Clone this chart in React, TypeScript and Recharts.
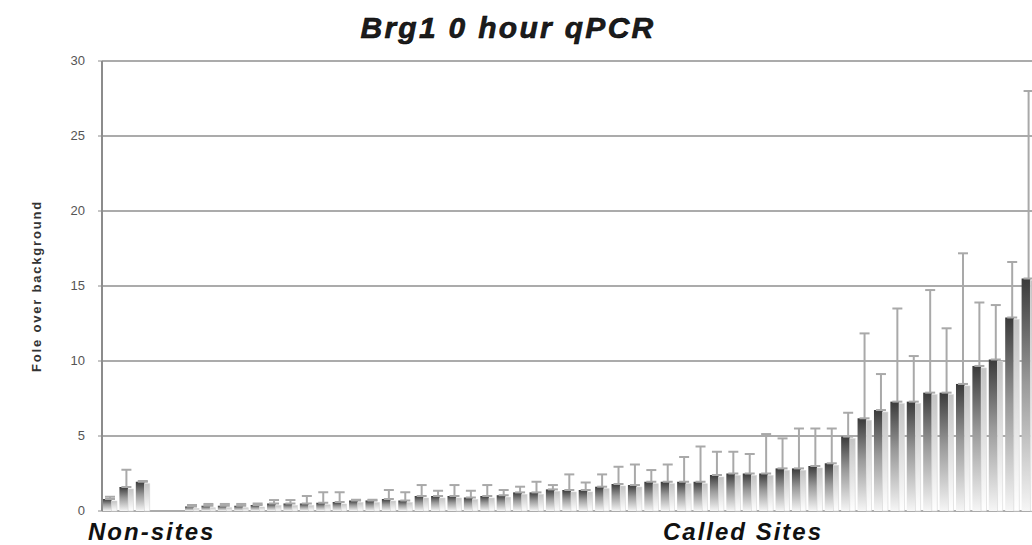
import React from 'react';
import { BarChart, Bar, XAxis, YAxis, CartesianGrid, ErrorBar } from 'recharts';

// non-site controls
const nonSiteValues = [0.8, 1.6, 1.95];
const nonSiteErrors = [0.15, 1.15, 0.05];

// called sites, sorted by enrichment (the last ones are cut off at the right edge)
const siteValues = [
  0.3, 0.35, 0.35, 0.35, 0.4, 0.5, 0.5, 0.5, 0.55, 0.6,
  0.7, 0.7, 0.8, 0.7, 1.0, 1.0, 1.0, 0.9, 1.0, 1.05,
  1.24, 1.24, 1.44, 1.4, 1.4, 1.62, 1.8, 1.73, 1.95, 1.95,
  1.95, 1.95, 2.4, 2.5, 2.5, 2.5, 2.84, 2.84, 3.0, 3.18,
  4.96, 6.18, 6.73, 7.29, 7.29, 7.89, 7.89, 8.47, 9.67, 10.1,
  12.9, 15.5,
];
const siteErrors = [
  0.1, 0.12, 0.12, 0.12, 0.1, 0.23, 0.23, 0.5, 0.7, 0.65,
  0.05, 0.05, 0.6, 0.55, 0.73, 0.35, 0.73, 0.45, 0.73, 0.35,
  0.38, 0.71, 0.29, 1.04, 0.5, 0.82, 1.15, 1.37, 0.78, 1.15,
  1.65, 2.35, 1.55, 1.45, 1.3, 2.63, 2.0, 2.66, 2.5, 2.32,
  1.59, 5.66, 2.4, 6.21, 3.04, 6.84, 4.29, 8.71, 4.23, 3.63,
  3.7, 12.5,
];
const gapSlots = 2;
const yTicks = [0, 5, 10, 15, 20, 25, 30];

type Row = { name: string; value: number | null; err?: [number, number] };

const data: Row[] = [
  ...nonSiteValues.map((v, i) => ({ name: `ns${i + 1}`, value: v, err: [0, nonSiteErrors[i]] as [number, number] })),
  ...Array.from({ length: gapSlots }, (_, i) => ({ name: `gap${i + 1}`, value: null })),
  ...siteValues.map((v, i) => ({ name: `site${i + 1}`, value: v, err: [0, siteErrors[i]] as [number, number] })),
];

const font = '"Liberation Sans", Arial, sans-serif';

// excel-ish gradient bar: darker main column plus a lighter, slightly shorter strip on its right
const GradientBar = (props: any) => {
  const { x, y, width, height } = props;
  if (height == null || height <= 0) return null;
  const darkW = width * 0.62;
  const drop = Math.min(2, height);
  return (
    <g>
      <rect x={x} y={y} width={darkW} height={height} fill="url(#gDark)" />
      <rect x={x + darkW} y={y + drop} width={width - darkW} height={height - drop} fill="url(#gLight)" stroke="#d6d6d6" strokeWidth={0.6} />
    </g>
  );
};

const YTick = (props: any) => {
  const { x, y, payload } = props;
  return (
    <text x={x} y={y} dy={4} textAnchor="end" fontSize={13} fill="#555" fontFamily={font}>
      {payload.value}
    </text>
  );
};

export default function App() {
  return (
    <div style={{ position: 'fixed', left: 0, top: 0, width: 1032, height: 545, overflow: 'hidden', background: '#fff' }}>
      <div
        style={{
          position: 'absolute', left: 0, width: 1016, top: 11, textAlign: 'center',
          fontFamily: font, fontWeight: 700, fontStyle: 'italic', fontSize: 30, color: '#1c1c1c',
          letterSpacing: 2.3, WebkitTextStroke: '0.6px #000',
        }}
      >
        Brg1 0 hour qPCR
      </div>
      <BarChart
        width={1037}
        height={545}
        data={data}
        margin={{ top: 61, right: 0, left: 0, bottom: 34 }}
        barCategoryGap={1}
      >
        <defs>
          <linearGradient id="gDark" x1="0" y1="0" x2="0" y2="1">
            <stop offset="0%" stopColor="#3a3a3a" />
            <stop offset="45%" stopColor="#9a9a9a" />
            <stop offset="100%" stopColor="#f6f6f6" />
          </linearGradient>
          <linearGradient id="gLight" x1="0" y1="0" x2="0" y2="1">
            <stop offset="0%" stopColor="#c4c4c4" />
            <stop offset="100%" stopColor="#ffffff" />
          </linearGradient>
        </defs>
        <CartesianGrid vertical={false} stroke="#ababab" strokeWidth={2} />
        <XAxis dataKey="name" tick={false} tickLine={false} height={0} axisLine={{ stroke: '#555', strokeWidth: 2 }} />
        <YAxis
          width={102}
          domain={[0, 30]}
          ticks={yTicks}
          interval={0}
          tickSize={4}
          tickMargin={13}
          axisLine={{ stroke: '#8c8c8c', strokeWidth: 2 }}
          tickLine={{ stroke: '#8c8c8c' }}
          tick={YTick}
          label={{
            value: 'Fole over background', angle: -90, position: 'insideLeft', offset: 36,
            style: { textAnchor: 'middle', fontSize: 13, fontWeight: 700, fill: '#333', fontFamily: font, letterSpacing: 1.8 },
          }}
        />
        <Bar dataKey="value" shape={GradientBar} isAnimationActive={false}>
          <ErrorBar dataKey="err" width={5} stroke="#a9a9a9" strokeWidth={2} direction="y" />
        </Bar>
      </BarChart>
      <div style={{ position: 'absolute', left: 88, top: 518, fontFamily: font, fontWeight: 700, fontStyle: 'italic', fontSize: 24, letterSpacing: 2, color: '#111' }}>
        Non-sites
      </div>
      <div style={{ position: 'absolute', left: 663, top: 518, fontFamily: font, fontWeight: 700, fontStyle: 'italic', fontSize: 24, letterSpacing: 2, color: '#111' }}>
        Called Sites
      </div>
    </div>
  );
}
